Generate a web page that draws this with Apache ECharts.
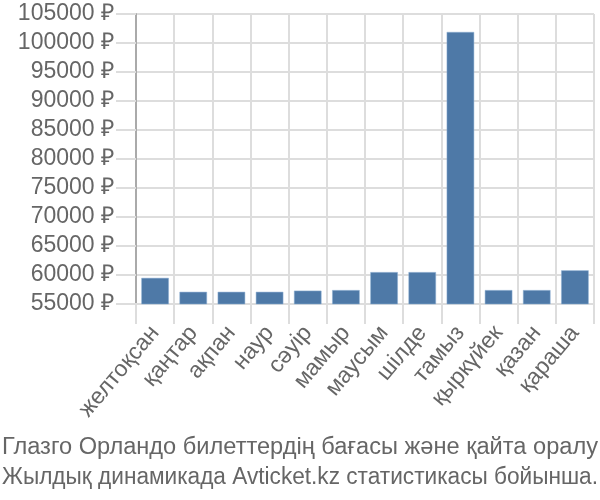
<!DOCTYPE html>
<html><head><meta charset="utf-8">
<script src="https://cdn.jsdelivr.net/npm/echarts@6/dist/echarts.min.js"></script>
<style>html,body{margin:0;padding:0;background:#fff}#c{width:600px;height:500px}</style>
</head><body><div id="c"></div>
<script>
const categories = ["желтоқсан","қаңтар","ақпан","наур","сәуір","мамыр","маусым","шілде","тамыз","қыркүйек","қазан","қараша"];
const prices = [59500, 57100, 57100, 57100, 57300, 57400, 60500, 60500, 101900, 57400, 57400, 60800];
const titleLines = ["Глазго Орландо билеттердің бағасы және қайта оралу", "Жылдық динамикада Avticket.kz статистикасы бойынша."];
const yMin = 55000, yMax = 105000, yStep = 5000;

const font = 'Liberation Sans, Arial, sans-serif';
const titleSize = 23;
const ctx = document.createElement('canvas').getContext('2d');
ctx.font = titleSize + 'px ' + font;
const titleWidth = 596;
const titleGraphics = titleLines.map((t, i) => ({
  type: 'text', x: 2, y: 448 + i * 30,
  scaleX: titleWidth / ctx.measureText(t).width,
  style: {text: t, x: 0, y: 0, font: titleSize + 'px ' + font, fill: '#666', verticalAlign: 'middle', align: 'left'}
}));

const chart = echarts.init(document.getElementById('c'), null, {renderer: 'canvas'});
chart.setOption({
  animation: false,
  graphic: titleGraphics,
  grid: {left: 136, right: 6, top: 14, bottom: 196, containLabel: false},
  xAxis: {
    type: 'category', data: categories,
    axisLine: {show: true, lineStyle: {color: '#ddd', width: 2}},
    axisTick: {show: true, length: 20, interval: 0, lineStyle: {color: '#ddd', width: 2}},
    splitLine: {show: true, interval: 0, lineStyle: {color: '#ddd', width: 2}},
    axisLabel: {interval: 0, rotate: 50, fontFamily: font, fontSize: 23, color: '#666', margin: 25}
  },
  yAxis: {
    type: 'value', min: yMin, max: yMax, interval: yStep,
    axisLine: {show: true, lineStyle: {color: '#aaa', width: 2}},
    axisTick: {show: true, length: 20, lineStyle: {color: '#ddd', width: 2}},
    splitLine: {show: true, lineStyle: {color: '#ddd', width: 2}},
    axisLabel: {fontFamily: font, fontSize: 23, color: '#666', margin: 22, formatter: v => v + ' ₽'}
  },
  series: [{
    type: 'bar', data: prices, barCategoryGap: '28%',
    itemStyle: {color: '#4e79a7', borderColor: '#8fb0d4', borderWidth: 0.5}
  }]
});
</script></body></html>
